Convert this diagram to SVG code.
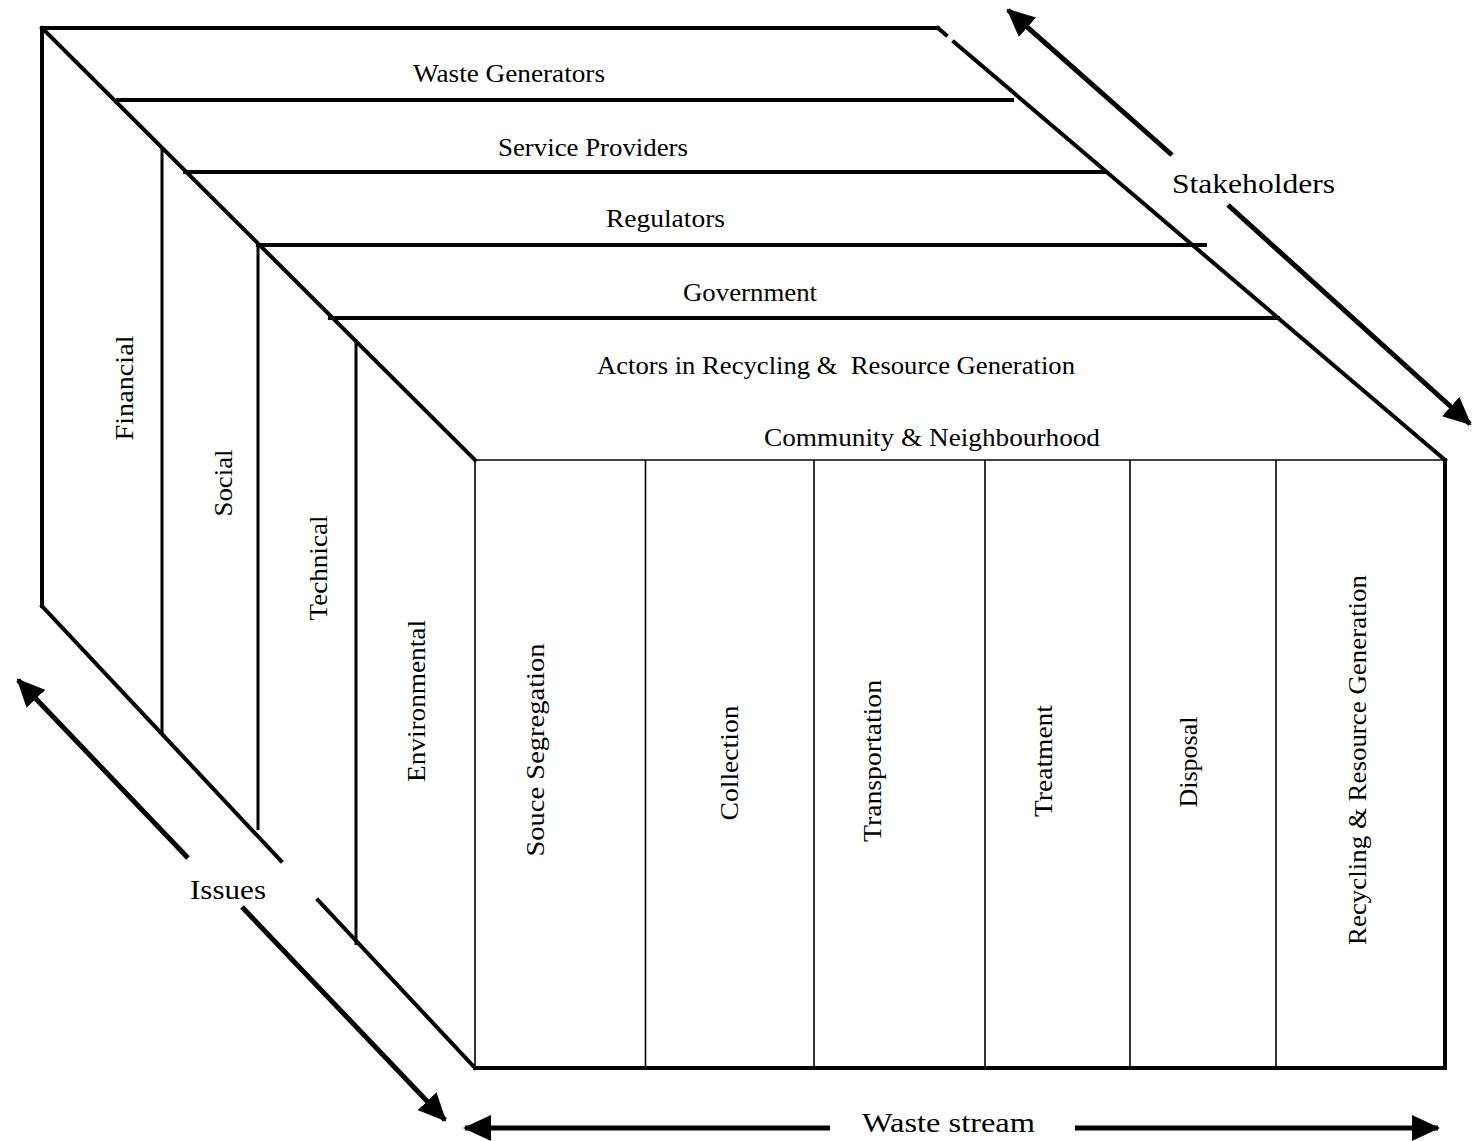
<svg xmlns="http://www.w3.org/2000/svg" width="1473" height="1141" viewBox="0 0 1473 1141">
<style>
  .bg { fill: #ffffff; }
  .thick { stroke: #000; stroke-width: 4; fill: none; stroke-linecap: square; }
  .mid { stroke: #000; stroke-width: 3; fill: none; }
  .thin { stroke: #000; stroke-width: 1.6; fill: none; }
  .arrow { stroke: #000; stroke-width: 5; fill: none; }
  text { font-family: "Liberation Serif", "Times New Roman", serif; fill: #000; }
  .lbl { font-size: 25px; }
  .big { font-size: 28px; }
  .v { font-size: 25px; text-anchor: middle; }
</style>
<defs>
  <marker id="ah" markerUnits="userSpaceOnUse" markerWidth="30" markerHeight="26" refX="26" refY="13" orient="auto" viewBox="0 0 30 26">
    <path d="M0,0 L28,13 L0,26 Z" fill="#000"/>
  </marker>
</defs>
<rect class="bg" x="0" y="0" width="1473" height="1141"/>

<g id="back-frame">
  <line class="thick" x1="42" y1="28" x2="938" y2="28"/>
  <line class="thick" x1="42" y1="28" x2="42" y2="606"/>
  <line class="thick" x1="42" y1="28" x2="475" y2="460"/>
  <line class="thick" x1="938" y1="28" x2="946" y2="35"/>
  <line class="thick" x1="954" y1="42" x2="1445" y2="460"/>
  <line class="thick" x1="42" y1="606" x2="281" y2="861"/>
  <line class="thick" x1="318" y1="900" x2="475" y2="1068"/>
</g>

<g id="stakeholder-bands">
  <line class="thick" x1="118" y1="100" x2="1012" y2="100"/>
  <line class="thick" x1="185" y1="172" x2="1105" y2="172"/>
  <line class="thick" x1="258" y1="245" x2="1205" y2="245"/>
  <line class="thick" x1="330" y1="318" x2="1278" y2="318"/>
  <g id="band-waste-generators"><text class="lbl" x="413" y="82" textLength="192" lengthAdjust="spacingAndGlyphs">Waste Generators</text></g>
  <g id="band-service-providers"><text class="lbl" x="498" y="156" textLength="190" lengthAdjust="spacingAndGlyphs">Service Providers</text></g>
  <g id="band-regulators"><text class="lbl" x="606" y="227" textLength="119" lengthAdjust="spacingAndGlyphs">Regulators</text></g>
  <g id="band-government"><text class="lbl" x="683" y="301" textLength="134" lengthAdjust="spacingAndGlyphs">Government</text></g>
  <g id="band-actors"><text class="lbl" x="597" y="374" textLength="478" lengthAdjust="spacingAndGlyphs" xml:space="preserve">Actors in Recycling &amp;  Resource Generation</text></g>
  <g id="band-community"><text class="lbl" x="764" y="446" textLength="336" lengthAdjust="spacingAndGlyphs">Community &amp; Neighbourhood</text></g>
</g>

<g id="issue-panels">
  <line class="mid" x1="162" y1="147" x2="162" y2="735"/>
  <line class="mid" x1="258" y1="245" x2="258" y2="830"/>
  <line class="mid" x1="356" y1="340" x2="356" y2="945"/>
  <g id="issue-financial"><text class="v" transform="translate(133,388) rotate(-90)" textLength="105" lengthAdjust="spacingAndGlyphs">Financial</text></g>
  <g id="issue-social"><text class="v" transform="translate(232,483) rotate(-90)" textLength="67" lengthAdjust="spacingAndGlyphs">Social</text></g>
  <g id="issue-technical"><text class="v" transform="translate(327,568) rotate(-90)" textLength="105" lengthAdjust="spacingAndGlyphs">Technical</text></g>
  <g id="issue-environmental"><text class="v" transform="translate(425,701) rotate(-90)" textLength="162" lengthAdjust="spacingAndGlyphs">Environmental</text></g>
</g>

<g id="front-face">
  <line class="thin" x1="475" y1="460" x2="1445" y2="460"/>
  <line class="thin" x1="475" y1="460" x2="475" y2="1068"/>
  <line class="thick" x1="1445" y1="460" x2="1445" y2="1068"/>
  <line class="thick" x1="475" y1="1068" x2="1445" y2="1068"/>
  <line class="thin" x1="645.5" y1="460" x2="645.5" y2="1068"/>
  <line class="thin" x1="814" y1="460" x2="814" y2="1068"/>
  <line class="thin" x1="985" y1="460" x2="985" y2="1068"/>
  <line class="thin" x1="1130" y1="460" x2="1130" y2="1068"/>
  <line class="thin" x1="1276" y1="460" x2="1276" y2="1068"/>
  <g id="col-source"><text class="v" transform="translate(544,750) rotate(-90)" textLength="213" lengthAdjust="spacingAndGlyphs">Souce Segregation</text></g>
  <g id="col-collection"><text class="v" transform="translate(738,763) rotate(-90)" textLength="115" lengthAdjust="spacingAndGlyphs">Collection</text></g>
  <g id="col-transportation"><text class="v" transform="translate(881,761) rotate(-90)" textLength="162" lengthAdjust="spacingAndGlyphs">Transportation</text></g>
  <g id="col-treatment"><text class="v" transform="translate(1052,761) rotate(-90)" textLength="112" lengthAdjust="spacingAndGlyphs">Treatment</text></g>
  <g id="col-disposal"><text class="v" transform="translate(1197,762) rotate(-90)" textLength="91" lengthAdjust="spacingAndGlyphs">Disposal</text></g>
  <g id="col-recycling"><text class="v" transform="translate(1366,760) rotate(-90)" textLength="370" lengthAdjust="spacingAndGlyphs">Recycling &amp; Resource Generation</text></g>
</g>

<g id="connectors">
  <line class="arrow" x1="1172" y1="155" x2="1008" y2="10" marker-end="url(#ah)"/>
  <line class="arrow" x1="1228" y1="205" x2="1470" y2="424" marker-end="url(#ah)"/>
  <line class="arrow" x1="188" y1="858" x2="18" y2="680" marker-end="url(#ah)"/>
  <line class="arrow" x1="242" y1="907" x2="445" y2="1120" marker-end="url(#ah)"/>
  <line class="arrow" x1="830" y1="1128" x2="465" y2="1128" marker-end="url(#ah)"/>
  <line class="arrow" x1="1075" y1="1128" x2="1438" y2="1128" marker-end="url(#ah)"/>
</g>

<g id="axis-labels">
  <g id="label-stakeholders"><text class="big" x="1172" y="193" textLength="163" lengthAdjust="spacingAndGlyphs">Stakeholders</text></g>
  <g id="label-issues"><text class="big" x="190" y="899" textLength="76" lengthAdjust="spacingAndGlyphs">Issues</text></g>
  <g id="label-waste-stream"><text class="big" x="862" y="1132" textLength="173" lengthAdjust="spacingAndGlyphs">Waste stream</text></g>
</g>
</svg>
